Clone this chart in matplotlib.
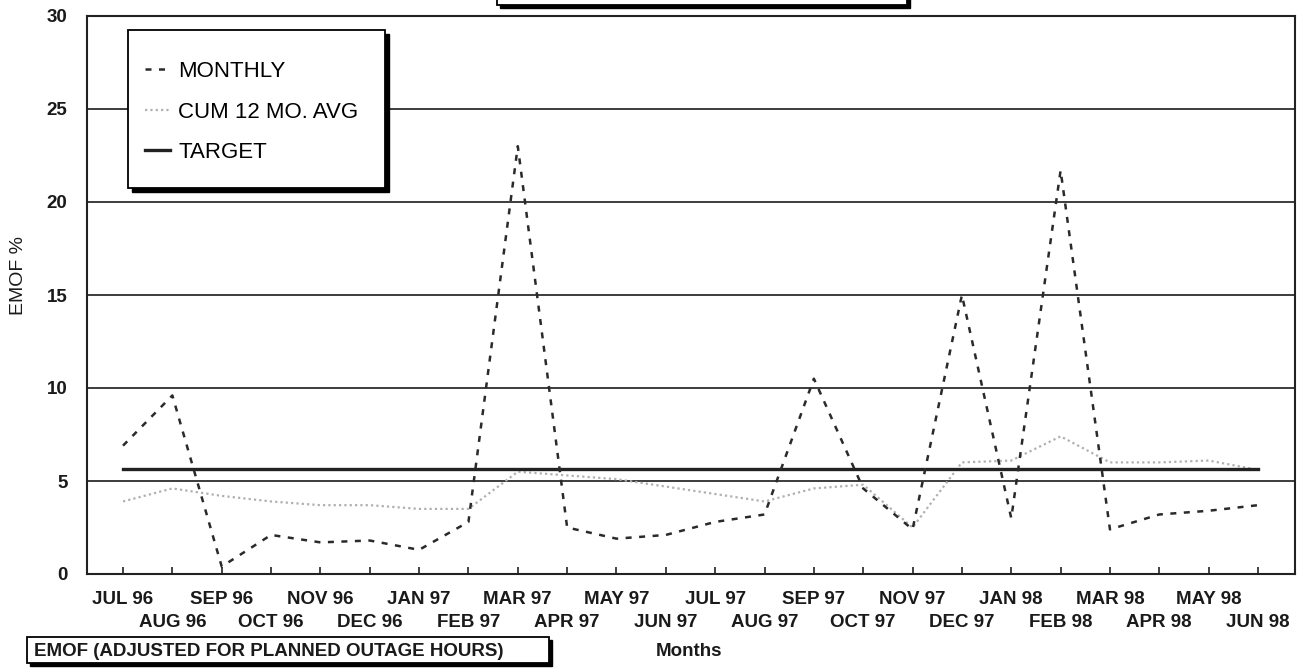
import numpy as np
import matplotlib
matplotlib.use('Agg')
import matplotlib.pyplot as plt
from matplotlib.patches import Rectangle

plt.rcParams['font.family'] = ['Liberation Sans', 'DejaVu Sans']

months = ['JUL 96', 'AUG 96', 'SEP 96', 'OCT 96', 'NOV 96', 'DEC 96',
          'JAN 97', 'FEB 97', 'MAR 97', 'APR 97', 'MAY 97', 'JUN 97',
          'JUL 97', 'AUG 97', 'SEP 97', 'OCT 97', 'NOV 97', 'DEC 97',
          'JAN 98', 'FEB 98', 'MAR 98', 'APR 98', 'MAY 98', 'JUN 98']
monthly = [6.9, 9.6, 0.4, 2.1, 1.7, 1.8, 1.3, 2.8, 23.0, 2.5, 1.9, 2.1,
           2.8, 3.2, 10.5, 4.6, 2.4, 15.0, 3.0, 21.7, 2.4, 3.2, 3.4, 3.7]
cum_avg = [3.9, 4.6, 4.2, 3.9, 3.7, 3.7, 3.5, 3.5, 5.5, 5.3, 5.1, 4.7,
           4.3, 3.9, 4.6, 4.8, 2.5, 6.0, 6.1, 7.4, 6.0, 6.0, 6.1, 5.6]
target = [5.65] * len(months)

W, H = 1311, 670


def px(x, y):
    # figure pixel (from top-left) -> figure fraction
    return x / W, 1 - y / H


def box(x0, y0, x1, y1, shadow=4):
    fx0, fy1 = px(x0, y0)
    fx1, fy0 = px(x1, y1)
    sx, sy = shadow / W, shadow / H
    fig.add_artist(Rectangle((fx0 + sx, fy0 - sy), fx1 - fx0, fy1 - fy0,
                             transform=fig.transFigure, facecolor='black',
                             edgecolor='black', zorder=5))
    fig.add_artist(Rectangle((fx0, fy0), fx1 - fx0, fy1 - fy0,
                             transform=fig.transFigure, facecolor='white',
                             edgecolor='black', lw=1.3, zorder=6))


fig = plt.figure(figsize=(W / 100, H / 100), dpi=100)
l, t = px(87, 16)
r, b = px(1295, 574)
ax = fig.add_axes([l, b, r - l, t - b])

x = np.arange(len(months))
h1, = ax.plot(x, monthly, color='#2a2a2a', lw=1.8, dashes=(2.4, 3.0),
              label='MONTHLY', zorder=4)
h2, = ax.plot(x, cum_avg, color='#b0b0b0', lw=1.6, dashes=(1, 1.4),
              label='CUM 12 MO. AVG', zorder=3)
h3, = ax.plot(x, target, color='#222222', lw=2.4, label='TARGET', zorder=3)

ax.set_xlim(-0.73, 23.75)
ax.set_ylim(0, 30)
ax.set_yticks(range(0, 31, 5))
ax.yaxis.grid(True, color='#3c3c3c', lw=1.4)
ax.set_axisbelow(True)
for s in ax.spines.values():
    s.set_linewidth(1.5)
    s.set_color('#222222')

ax.set_xticks(x[::2])
ax.set_xticklabels(months[::2])
ax.set_xticks(x[1::2], minor=True)
ax.set_xticklabels(months[1::2], minor=True)
ax.tick_params(axis='x', which='both', direction='in', length=5, width=1.2,
               labelsize=13.5, color='#222222')
ax.tick_params(axis='x', which='major', pad=12)
ax.tick_params(axis='x', which='minor', pad=29)
ax.tick_params(axis='y', length=0, pad=14, labelsize=13.5)
for lab in ax.get_xticklabels(which='both') + ax.get_yticklabels():
    lab.set_fontweight('bold')
    lab.set_color('#1a1a1a')

ax.set_ylabel('EMOF %', fontsize=14, labelpad=14, color='#1a1a1a', y=0.535)

# legend with a shadowed frame
box(128, 30, 385, 188)
fig.legend(handles=[h1, h2, h3], loc='upper left', frameon=False,
           bbox_to_anchor=px(134, 50), fontsize=16, borderpad=0,
           handlelength=1.1, handletextpad=0.4, labelspacing=0.88
           ).set_zorder(7)

# title box cut off at the top edge
box(497, -30, 907, 5, shadow=3)

# caption box bottom left
box(27, 637, 549, 663, shadow=3)
fig.text(*px(34, 651), 'EMOF (ADJUSTED FOR PLANNED OUTAGE HOURS)',
         fontsize=13.5, fontweight='bold', va='center', ha='left',
         color='#1a1a1a', zorder=7)
fig.text(*px(656, 652), 'Months', fontsize=13.5, fontweight='bold',
         va='center', ha='left', color='#1a1a1a')

fig.savefig('out.png', dpi=100)
